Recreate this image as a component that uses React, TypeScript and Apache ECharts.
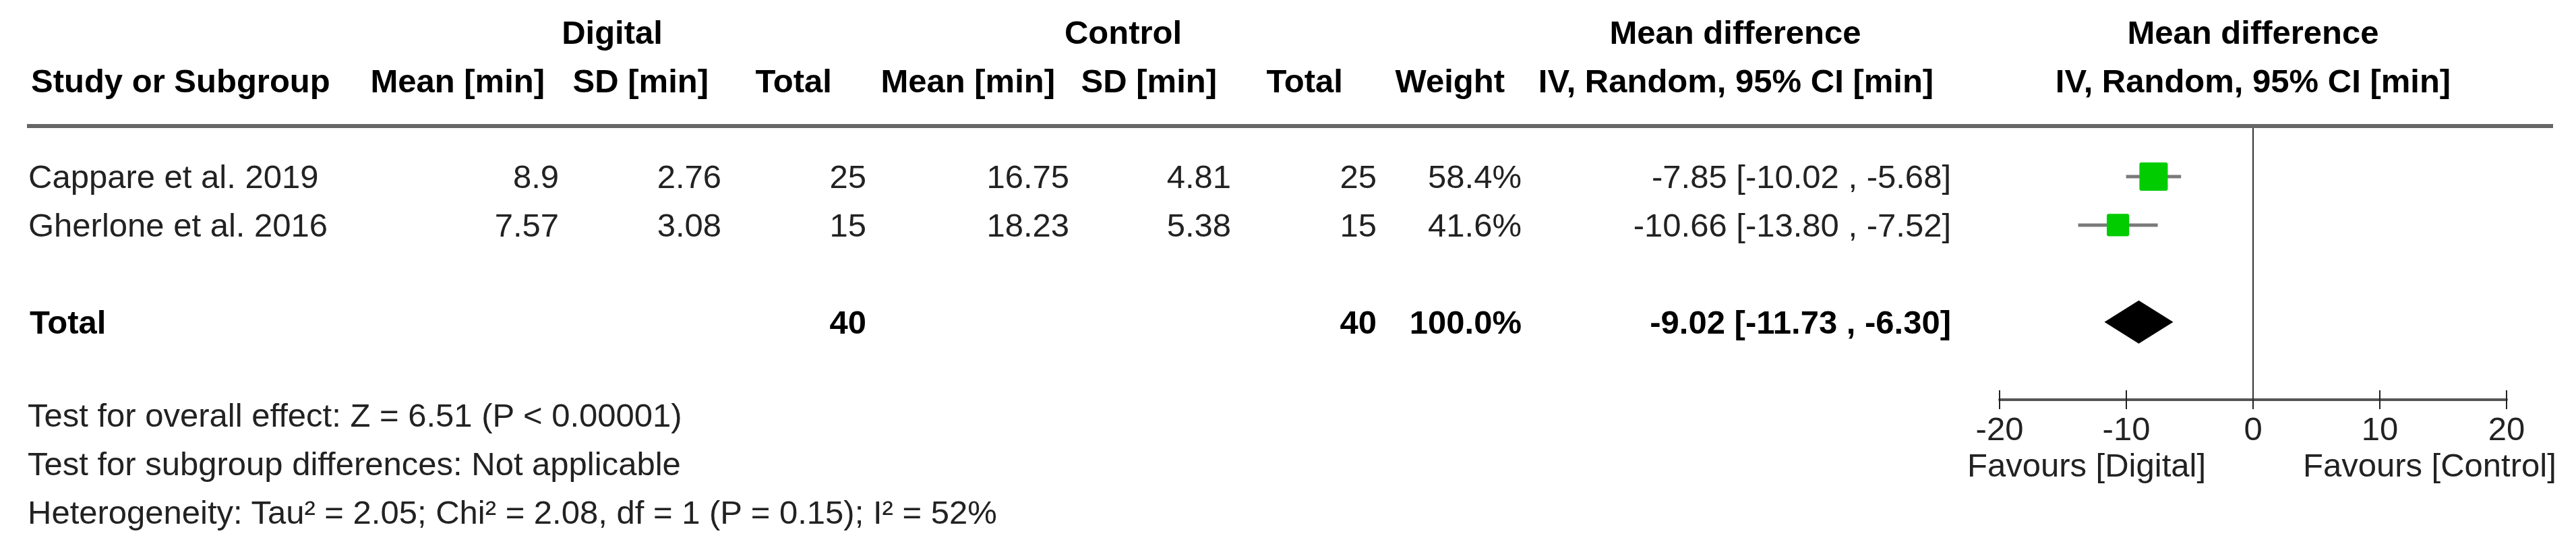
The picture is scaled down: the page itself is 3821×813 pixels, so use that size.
import React, { useEffect, useRef } from "react";
import * as echarts from "echarts";

// ---- data ----
const studies = ["Cappare et al. 2019", "Gherlone et al. 2016"];
const digitalMean = [8.9, 7.57];
const digitalSD = [2.76, 3.08];
const digitalTotal = [25, 15];
const controlMean = [16.75, 18.23];
const controlSD = [4.81, 5.38];
const controlTotal = [25, 15];
const weights = [58.4, 41.6];
const meanDiff = [-7.85, -10.66];
const ciLow = [-10.02, -13.8];
const ciHigh = [-5.68, -7.52];
const totalDigital = 40;
const totalControl = 40;
const totalWeight = 100.0;
const totalMD = -9.02;
const totalLow = -11.73;
const totalHigh = -6.3;
const xTicks = [-20, -10, 0, 10, 20];
const footerLines = [
  "Test for overall effect: Z = 6.51 (P < 0.00001)",
  "Test for subgroup differences: Not applicable",
  "Heterogeneity: Tau\u00b2 = 2.05; Chi\u00b2 = 2.08, df = 1 (P = 0.15); I\u00b2 = 52%",
];

// ---- layout ----
const FONT = "'Liberation Sans', Arial, Helvetica, sans-serif";
const FS = 49;
const studyRows = [1, 2];
const totalRow = 4;

const fmt2 = (v: number) => v.toFixed(2);

export default function App() {
  const ref = useRef<HTMLDivElement>(null);
  useEffect(() => {
    if (!ref.current) return;
    const chart = echarts.init(ref.current, undefined, { renderer: "svg" });

    const studyData = studies.map((_, i) => [meanDiff[i], ciLow[i], ciHigh[i], studyRows[i], weights[i]]);

    chart.setOption({
      animation: false,
      backgroundColor: "#ffffff",
      textStyle: { fontFamily: FONT },
      grid: { left: 2966, top: 190, width: 752, height: 403, containLabel: false },
      xAxis: [
        {
          type: "value",
          min: xTicks[0],
          max: xTicks[xTicks.length - 1],
          interval: xTicks[1] - xTicks[0],
          position: "bottom",
          axisLine: { show: true, onZero: false, lineStyle: { color: "#555", width: 4 } },
          axisTick: { show: true, length: 14, lineStyle: { color: "#222", width: 2 } },
          axisLabel: { fontSize: FS, color: "#222", margin: 18, fontFamily: FONT },
          splitLine: { show: false },
        },
        {
          type: "value",
          min: xTicks[0],
          max: xTicks[xTicks.length - 1],
          interval: xTicks[1] - xTicks[0],
          position: "bottom",
          axisLine: { show: false, onZero: false },
          axisTick: { show: true, inside: true, length: 14, lineStyle: { color: "#222", width: 2 } },
          axisLabel: { show: false },
          splitLine: { show: false },
        },
      ],
      yAxis: { type: "value", min: 0, max: 5.6, inverse: true, show: false },
      series: [
        {
          type: "custom",
          xAxisIndex: 0,
          yAxisIndex: 0,
          data: studyData,
          encode: { x: [0, 1, 2], y: 3 },
          renderItem: (params: any, api: any) => {
            const row = api.value(3);
            const c = api.coord([api.value(0), row]);
            const lo = api.coord([api.value(1), row]);
            const hi = api.coord([api.value(2), row]);
            const size = 2.44 * Math.pow(api.value(4), 0.7);
            return {
              type: "group",
              children: [
                {
                  type: "line",
                  shape: { x1: lo[0], y1: lo[1], x2: hi[0], y2: hi[1] },
                  style: { stroke: "#7a7a7a", lineWidth: 5 },
                },
                {
                  type: "rect",
                  shape: { x: c[0] - size / 2, y: c[1] - size / 2, width: size, height: size, r: 3 },
                  style: { fill: "#00cc00" },
                },
              ],
            };
          },
          markLine: {
            silent: true,
            symbol: "none",
            label: { show: false },
            lineStyle: { color: "#333", width: 2, type: "solid" },
            data: [{ xAxis: 0 }],
          },
        },
        {
          type: "custom",
          xAxisIndex: 0,
          yAxisIndex: 0,
          data: [[totalMD, totalLow, totalHigh, totalRow]],
          encode: { x: [0, 1, 2], y: 3 },
          renderItem: (params: any, api: any) => {
            const row = api.value(3);
            const c = api.coord([api.value(0), row]);
            const lo = api.coord([api.value(1), row]);
            const hi = api.coord([api.value(2), row]);
            const h = 32;
            return {
              type: "polygon",
              shape: {
                points: [
                  [lo[0], lo[1]],
                  [c[0], c[1] - h],
                  [hi[0], hi[1]],
                  [c[0], c[1] + h],
                ],
              },
              style: { fill: "#000" },
            };
          },
        },
      ],
    });

    const rowY = (r: number) => chart.convertToPixel({ gridIndex: 0 }, [0, r])[1] as number;
    const zeroX = chart.convertToPixel({ gridIndex: 0 }, [0, 0])[0] as number;

    const txt = (
      text: string,
      x: number,
      y: number,
      align: string,
      bold = false,
      color = "#222"
    ) => ({
      type: "text",
      x,
      y,
      silent: true,
      style: {
        text,
        x: 0,
        y: 0,
        fontSize: FS,
        fontFamily: FONT,
        fontWeight: bold ? "bold" : "normal",
        fill: bold ? "#000" : color,
        align,
        verticalAlign: "middle",
      },
    });

    const g: any[] = [];
    // header line
    g.push({
      type: "line",
      silent: true,
      shape: { x1: 40, y1: 187, x2: 3787, y2: 187 },
      style: { stroke: "#666", lineWidth: 6 },
    });
    // group headers
    const h1 = 48;
    g.push(txt("Digital", 908, h1, "center", true));
    g.push(txt("Control", 1666, h1, "center", true));
    g.push(txt("Mean difference", 2574, h1, "center", true));
    g.push(txt("Mean difference", zeroX, h1, "center", true));
    const h2 = 120;
    g.push(txt("Study or Subgroup", 46, h2, "left", true));
    g.push(txt("Mean [min]", 808, h2, "right", true));
    g.push(txt("SD [min]", 1051, h2, "right", true));
    g.push(txt("Total", 1234, h2, "right", true));
    g.push(txt("Mean [min]", 1565, h2, "right", true));
    g.push(txt("SD [min]", 1805, h2, "right", true));
    g.push(txt("Total", 1992, h2, "right", true));
    g.push(txt("Weight", 2232, h2, "right", true));
    g.push(txt("IV, Random, 95% CI [min]", 2575, h2, "center", true));
    g.push(txt("IV, Random, 95% CI [min]", zeroX, h2, "center", true));

    studies.forEach((s, i) => {
      const y = rowY(studyRows[i]);
      g.push(txt(s, 42, y, "left"));
      g.push(txt(String(digitalMean[i]), 829, y, "right"));
      g.push(txt(String(digitalSD[i]), 1070, y, "right"));
      g.push(txt(String(digitalTotal[i]), 1285, y, "right"));
      g.push(txt(String(controlMean[i]), 1586, y, "right"));
      g.push(txt(String(controlSD[i]), 1826, y, "right"));
      g.push(txt(String(controlTotal[i]), 2042, y, "right"));
      g.push(txt(weights[i].toFixed(1) + "%", 2257, y, "right"));
      g.push(txt(`${fmt2(meanDiff[i])} [${fmt2(ciLow[i])} , ${fmt2(ciHigh[i])}]`, 2894, y, "right"));
    });

    const ty = rowY(totalRow);
    g.push(txt("Total", 44, ty, "left", true));
    g.push(txt(String(totalDigital), 1285, ty, "right", true));
    g.push(txt(String(totalControl), 2042, ty, "right", true));
    g.push(txt(totalWeight.toFixed(1) + "%", 2257, ty, "right", true));
    g.push(txt(`${fmt2(totalMD)} [${fmt2(totalLow)} , ${fmt2(totalHigh)}]`, 2894, ty, "right", true));

    const footY = [616, 688, 760];
    footerLines.forEach((l, i) => g.push(txt(l, 41, footY[i], "left")));

    g.push(txt("Favours [Digital]", zeroX - 70, 690, "right"));
    g.push(txt("Favours [Control]", zeroX + 74, 690, "left"));

    chart.setOption({ graphic: g });

    return () => chart.dispose();
  }, []);

  return (
    <div
      ref={ref}
      style={{ position: "absolute", left: 0, top: 0, width: 3821, height: 813, background: "#fff" }}
    />
  );
}
